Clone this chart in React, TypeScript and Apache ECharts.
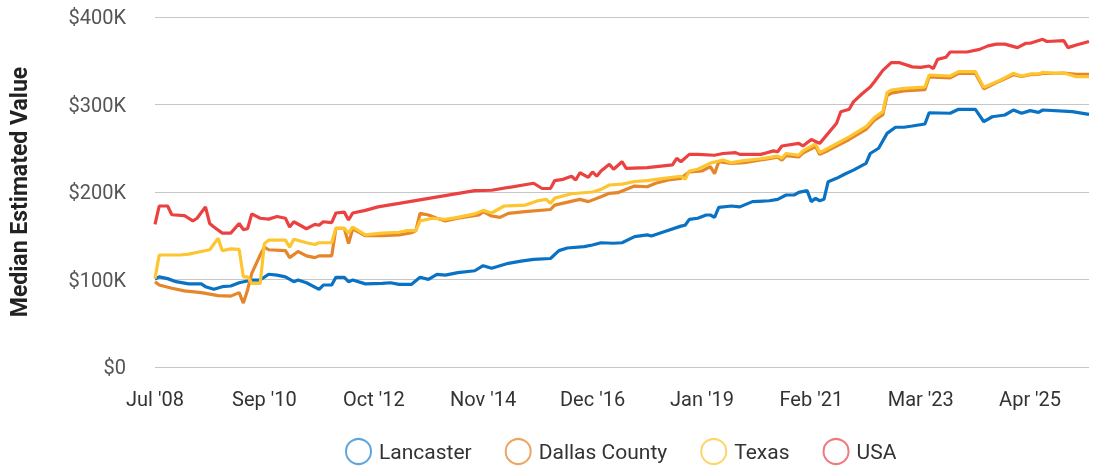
import React, { useEffect, useRef } from "react";
import * as echarts from "echarts";

// x = position along the time axis (tick every 26 steps, labels below)
const TICK_LABELS = ["Jul '08", "Sep '10", "Oct '12", "Nov '14", "Dec '16", "Jan '19", "Feb '21", "Mar '23", "Apr '25"];
const X_MAX = 222;
const X_TICK = 26;

const seriesNames = ["Lancaster", "Dallas County", "Texas", "USA"];
const seriesColors = ["#0a72c4", "#e5862a", "#fdc630", "#ec4141"];
const legendColors = ["#5ea5e0", "#eea463", "#fdd56a", "#f07a7a"];

const lancaster: [number, number][] = [
  [0, 100.6], [1, 103], [3, 101], [5, 97.5], [8, 95], [11, 95], [12, 91.8], [14, 88.8], [16, 91.8], [18, 92.6],
  [20, 96.3], [23, 99.4], [25, 99.4], [27, 106], [29, 105], [31, 103], [33, 97.5], [34, 99.4], [36, 96.3], [39, 88.8],
  [40, 93.7], [42, 93.7], [43, 102.5], [45, 102.5], [46, 97.5], [47, 99.4], [50, 95], [54, 95.6], [56, 96.3], [58, 94.5],
  [61, 94.5], [63, 102.5], [65, 100.2], [67, 105.9], [69, 105], [72, 107.8], [76, 110], [78, 115.8], [80, 112.8], [84, 118.5],
  [87, 121], [90, 123], [94, 124], [96, 133], [98, 136], [102, 137.5], [104, 139.4], [106, 142], [109, 141.4], [111, 142],
  [114, 149], [117, 151], [118, 149.7], [121, 154.6], [125, 161], [126, 162], [127, 168.8], [129, 170], [131, 173.7], [132, 173.7],
  [133, 171], [134, 182.5], [137, 184], [139, 183], [142, 189], [146, 190], [148, 191.6], [150, 196.6], [152, 196.6], [153, 199.6],
  [155, 201.5], [156, 189], [157, 192.8], [158, 190], [159, 191.6], [160, 211.8], [162, 215.6], [164, 220.6], [166, 225], [169, 232.8],
  [170, 244], [172, 250], [174, 267], [176, 274], [178, 274], [180, 275.4], [183, 277.7], [184, 290.6], [189, 290], [191, 294.5],
  [195, 294.5], [197, 280.3], [199, 286], [202, 288], [204, 293.7], [206, 290], [208, 293], [210, 291], [211, 293.7], [218, 291.8],
  [222, 288.8],
];

const dallas: [number, number][] = [
  [0, 97.5], [1, 93.7], [4, 90], [7, 87], [11, 85], [15, 81.5], [18, 81], [20, 85], [21, 73], [22, 88],
  [23, 107], [25, 128], [26, 137], [27, 134], [31, 133], [32, 125], [34, 132], [36, 127], [38, 125], [39, 127],
  [42, 127], [43, 158.5], [45, 158.5], [46, 141], [47, 158], [50, 150], [54, 150], [58, 151], [61, 153.5], [62, 155.8],
  [63, 175.6], [65, 173.7], [67, 170], [69, 167], [72, 170], [77, 173.7], [78, 177.5], [80, 172.6], [82, 171], [84, 175.6],
  [88, 177.5], [94, 180], [95, 185], [101, 191.6], [103, 189], [106, 194.6], [108, 198.5], [110, 199.2], [114, 206.8], [117, 206],
  [119, 210], [122, 213.7], [125, 215.6], [127, 223], [130, 224], [132, 229], [133, 221], [134, 234.6], [137, 232.8], [140, 233.5],
  [148, 239.7], [149, 236.5], [150, 241.5], [153, 240], [154, 244.5], [157, 252], [158, 243], [160, 247.5], [165, 260], [169, 271.5],
  [171, 282], [173, 288.5], [174, 310], [175, 313], [178, 315.5], [183, 317], [184, 331.5], [189, 330.5], [191, 335.5], [195, 335.5],
  [197, 318], [200, 325], [201, 327], [204, 334], [206, 332], [208, 334], [210, 334.5], [211, 335.5], [214, 335.5], [216, 336],
  [219, 334.5], [222, 334.5],
];

const texas: [number, number][] = [
  [0, 101], [1, 128], [6, 128], [8, 129], [11, 132], [13, 134], [15, 147], [16, 133], [18, 135], [20, 134.5],
  [21, 103], [22, 103], [23, 95.6], [25, 95.6], [26, 141], [27, 145], [31, 145], [32, 137], [33, 146], [36, 142],
  [38, 140], [39, 142], [42, 142], [43, 158.5], [45, 158.5], [46, 153], [47, 160], [50, 151], [54, 153], [58, 154],
  [60, 155.8], [62, 155.8], [63, 167], [66, 170], [69, 168.8], [72, 171], [76, 175], [78, 179], [80, 176], [83, 184],
  [88, 185], [91, 190], [93, 191.6], [94, 187], [95, 193], [99, 198], [104, 200], [106, 203], [108, 208], [111, 209],
  [114, 212], [117, 213], [121, 215.6], [125, 218], [126, 214.5], [127, 224], [129, 226], [132, 233], [135, 236.6], [137, 233.5],
  [140, 235.8], [144, 238], [148, 241], [149, 238.5], [150, 244], [153, 242], [154, 247], [157, 255], [158, 245], [160, 250],
  [165, 263], [169, 274.6], [171, 285], [173, 291.8], [174, 313.5], [175, 316.6], [178, 318.5], [183, 320], [184, 333.7], [189, 332.6],
  [191, 337.5], [195, 337.5], [197, 319.6], [200, 326], [201, 328], [204, 335.6], [206, 332.6], [208, 334.9], [210, 334.9], [211, 336.8],
  [214, 335.6], [216, 336], [219, 331.8], [222, 331.8],
];

const usa: [number, number][] = [
  [0, 163], [1, 184], [3, 184], [4, 174], [7, 173], [9, 167], [10, 170], [12, 183], [13, 164], [14, 160],
  [16, 153], [18, 153], [20, 164], [21, 157], [22, 158], [23, 175], [25, 170], [27, 169], [29, 172], [31, 170],
  [32, 160], [33, 166], [36, 158], [38, 163], [39, 162], [40, 166], [42, 165], [43, 176], [45, 177], [46, 168],
  [47, 176], [50, 179], [53, 183], [58, 187], [76, 201.5], [80, 202], [90, 210], [92, 204], [94, 204], [95, 213],
  [97, 214.5], [99, 218], [100, 213.7], [101, 222], [103, 216.8], [104, 223], [105, 218], [106, 224], [108, 231.6], [109, 226],
  [111, 234.6], [112, 227], [117, 227.8], [123, 231], [124, 238.5], [125, 234.6], [127, 243], [129, 243], [133, 242], [135, 244],
  [138, 245], [139, 243], [144, 243], [147, 247], [148, 246], [149, 252.6], [153, 255.6], [154, 252.6], [156, 260], [158, 255.6],
  [162, 278.5], [163, 291.8], [165, 294.5], [166, 303], [168, 312], [170, 320], [171, 326], [173, 339], [175, 347.8], [177, 347.8],
  [180, 343], [182, 342.5], [184, 344], [185, 341], [186, 351.6], [188, 354], [189, 360], [193, 360], [196, 363], [198, 367],
  [200, 369], [202, 369], [205, 365], [207, 370], [208, 370], [211, 374.5], [212, 372], [216, 373], [217, 365], [219, 368],
  [222, 372],
];

const allData = [lancaster, dallas, texas, usa];

export default function App() {
  const ref = useRef<HTMLDivElement>(null);
  useEffect(() => {
    if (!ref.current) return;
    const chart = echarts.init(ref.current, undefined, { renderer: "svg" });
    const font = "Roboto, 'Noto Sans', sans-serif";
    chart.setOption({
      animation: false,
      textStyle: { fontFamily: font },
      grid: { left: 155, right: 8, top: 17, bottom: 101, containLabel: false },
      legend: {
        left: 345,
        top: 438,
        padding: 0,
        icon: "circle",
        itemWidth: 25,
        itemHeight: 25,
        itemGap: 33,
        textStyle: { fontSize: 21, color: "#333", fontFamily: font, padding: [0, 0, 0, 3] },
        data: seriesNames.map((n, i) => ({
          name: n,
          itemStyle: { color: "rgba(255,255,255,0)", borderColor: legendColors[i], borderWidth: 2 },
        })),
      },
      xAxis: {
        type: "value",
        min: 0,
        max: X_MAX,
        interval: X_TICK,
        axisLine: { show: false },
        axisTick: { show: false },
        splitLine: { show: false },
        axisLabel: {
          formatter: (v: number) => TICK_LABELS[Math.round(v / X_TICK)] ?? "",
          fontSize: 20,
          color: "#333",
          margin: 22,
          showMaxLabel: false,
          fontFamily: font,
        },
      },
      yAxis: {
        type: "value",
        min: 0,
        max: 400,
        interval: 100,
        name: "Median Estimated Value",
        nameLocation: "middle",
        nameGap: 124,
        nameTextStyle: { fontSize: 23, fontWeight: "bold", color: "#222", fontFamily: font },
        axisLine: { show: false },
        axisTick: { show: false },
        splitLine: { lineStyle: { color: "#c6c6c6", width: 1.2 } },
        axisLabel: {
          formatter: (v: number) => (v === 0 ? "$0" : "$" + v + "K"),
          fontSize: 20,
          color: "#555",
          margin: 29,
          fontFamily: font,
        },
      },
      series: seriesNames.map((n, i) => ({
        name: n,
        type: "line",
        data: allData[i],
        showSymbol: false,
        symbol: "none",
        color: seriesColors[i],
        lineStyle: { width: 3.2, color: seriesColors[i] },
        z: 2 + i,
      })),
    });
    return () => chart.dispose();
  }, []);
  return <div ref={ref} style={{ position: "fixed", left: 0, top: 0, width: 1097, height: 468 }} />;
}
